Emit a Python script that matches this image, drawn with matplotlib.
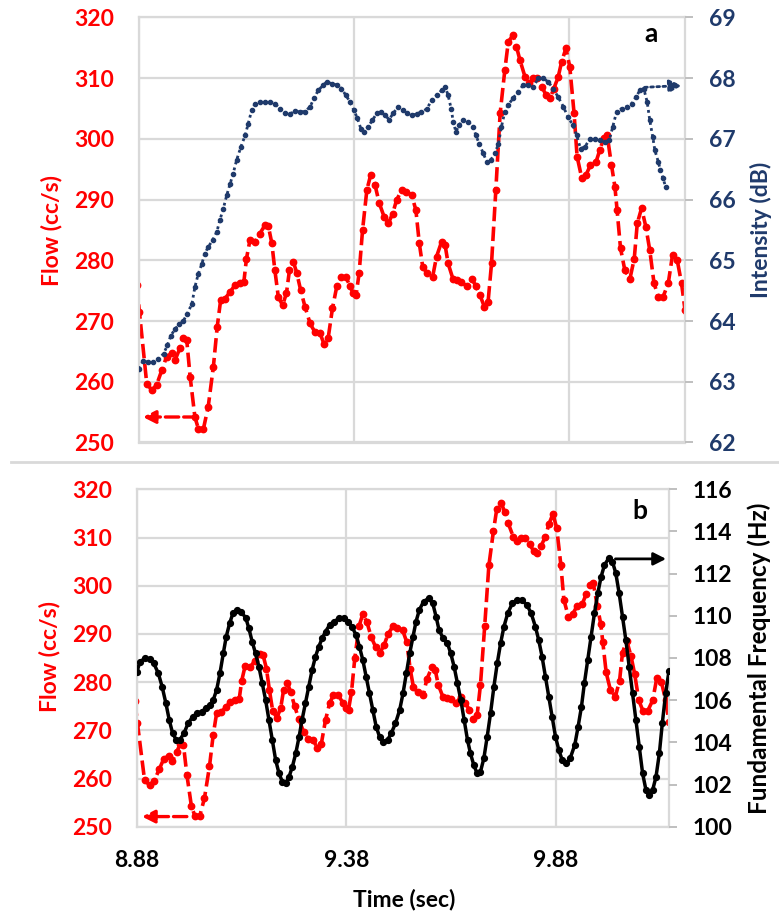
import matplotlib.pyplot as plt
from matplotlib.lines import Line2D

# flow signal (cc/s) sampled over time (sec), shared by both panels
flow_t = [8.875, 8.881, 8.898, 8.910, 8.921, 8.933, 8.944, 8.956, 8.964, 8.975,
          8.983, 8.991, 8.999, 9.010, 9.018, 9.030, 9.041, 9.053, 9.062, 9.070,
          9.080, 9.092, 9.103, 9.115, 9.124, 9.130, 9.138, 9.150, 9.161, 9.173,
          9.181, 9.189, 9.196, 9.204, 9.214, 9.223, 9.230, 9.239, 9.247, 9.256,
          9.266, 9.278, 9.289, 9.301, 9.310, 9.320, 9.330, 9.340, 9.349, 9.361,
          9.371, 9.378, 9.385, 9.392, 9.400, 9.410, 9.419, 9.429, 9.439, 9.450,
          9.460, 9.470, 9.479, 9.491, 9.501, 9.514, 9.524, 9.532, 9.540, 9.550,
          9.563, 9.572, 9.584, 9.592, 9.599, 9.610, 9.620, 9.630, 9.642, 9.654,
          9.664, 9.673, 9.683, 9.692, 9.700, 9.710, 9.720, 9.731, 9.739, 9.750,
          9.758, 9.766, 9.778, 9.788, 9.797, 9.806, 9.817, 9.827, 9.836, 9.845,
          9.855, 9.863, 9.873, 9.882, 9.892, 9.899, 9.910, 9.920, 9.930, 9.943,
          9.952, 9.961, 9.969, 9.979, 9.987, 9.992, 10.000, 10.010, 10.022, 10.032,
          10.039, 10.049, 10.059, 10.068, 10.078, 10.088, 10.099, 10.111, 10.121, 10.132,
          10.142, 10.150, 10.159]
flow_v = [276.0, 271.5, 259.7, 258.6, 259.5, 261.9, 264.1, 264.7, 263.6, 265.5,
          267.2, 266.9, 260.8, 254.2, 252.3, 252.3, 255.9, 262.5, 269.1, 273.5,
          273.7, 274.8, 275.9, 276.2, 276.5, 280.3, 283.3, 283.1, 284.4, 285.8,
          285.6, 282.8, 278.4, 274.0, 272.6, 274.6, 278.4, 279.8, 277.9, 275.1,
          272.4, 269.6, 268.2, 268.0, 266.3, 267.2, 272.1, 275.7, 277.3, 277.3,
          275.7, 274.6, 274.3, 277.9, 285.0, 291.6, 294.1, 292.4, 289.4, 287.2,
          286.1, 287.7, 289.9, 291.6, 291.3, 290.8, 288.3, 282.8, 278.9, 277.9,
          277.3, 280.6, 283.1, 282.5, 279.5, 277.0, 276.8, 276.5, 275.7, 277.0,
          275.7, 274.3, 272.4, 273.2, 279.5, 291.6, 304.2, 311.4, 316.0, 317.1,
          315.2, 313.0, 310.2, 309.2, 310.0, 310.0, 308.6, 307.2, 306.7, 308.3,
          310.2, 312.7, 314.9, 311.9, 304.2, 297.1, 293.5, 294.1, 295.7, 296.2,
          298.2, 300.1, 300.6, 295.7, 292.1, 288.3, 282.0, 278.4, 277.0, 280.3,
          286.1, 288.6, 285.5, 281.7, 276.2, 274.0, 274.0, 276.2, 280.9, 280.0,
          276.2, 271.8, 268.0]

# intensity (dB)
inten_t = [8.880, 8.890, 8.902, 8.913, 8.925, 8.937, 8.946, 8.954, 8.964, 8.974,
           8.983, 8.992, 9.003, 9.010, 9.018, 9.026, 9.033, 9.041, 9.051, 9.061,
           9.068, 9.076, 9.084, 9.092, 9.099, 9.107, 9.117, 9.127, 9.134, 9.142,
           9.150, 9.161, 9.173, 9.185, 9.196, 9.208, 9.220, 9.231, 9.243, 9.254,
           9.266, 9.278, 9.287, 9.297, 9.309, 9.317, 9.328, 9.340, 9.351, 9.361,
           9.371, 9.380, 9.388, 9.396, 9.403, 9.413, 9.423, 9.433, 9.442, 9.452,
           9.462, 9.471, 9.483, 9.493, 9.504, 9.514, 9.526, 9.537, 9.549, 9.561,
           9.572, 9.584, 9.592, 9.599, 9.606, 9.611, 9.617, 9.625, 9.634, 9.646,
           9.656, 9.664, 9.671, 9.681, 9.689, 9.698, 9.708, 9.716, 9.723, 9.731,
           9.739, 9.750, 9.762, 9.774, 9.785, 9.797, 9.809, 9.820, 9.832, 9.843,
           9.855, 9.867, 9.878, 9.889, 9.898, 9.907, 9.917, 9.929, 9.940, 9.952,
           9.964, 9.974, 9.982, 9.991, 10.003, 10.014, 10.026, 10.036, 10.045, 10.054,
           10.062, 10.068, 10.075, 10.080, 10.088, 10.093, 10.099, 10.105]
inten_v = [63.21, 63.35, 63.32, 63.32, 63.38, 63.46, 63.60, 63.76, 63.87, 63.95,
           64.00, 64.12, 64.28, 64.56, 64.78, 64.94, 65.11, 65.22, 65.33, 65.47,
           65.66, 65.85, 66.07, 66.26, 66.43, 66.65, 66.87, 67.06, 67.25, 67.47,
           67.58, 67.61, 67.61, 67.61, 67.58, 67.50, 67.42, 67.41, 67.46, 67.45,
           67.45, 67.53, 67.67, 67.80, 67.89, 67.94, 67.91, 67.89, 67.83, 67.72,
           67.61, 67.47, 67.34, 67.17, 67.12, 67.20, 67.31, 67.42, 67.45, 67.39,
           67.32, 67.42, 67.53, 67.47, 67.42, 67.39, 67.41, 67.45, 67.49, 67.64,
           67.72, 67.80, 67.86, 67.72, 67.50, 67.28, 67.12, 67.23, 67.31, 67.28,
           67.20, 67.06, 66.92, 66.76, 66.62, 66.65, 66.76, 66.92, 67.20, 67.45,
           67.56, 67.67, 67.78, 67.89, 67.89, 67.86, 68.00, 68.00, 67.94, 67.83,
           67.69, 67.53, 67.36, 67.23, 67.06, 66.84, 66.87, 67.00, 67.00, 66.98,
           66.95, 66.98, 67.20, 67.45, 67.50, 67.53, 67.58, 67.69, 67.80, 67.83,
           67.61, 67.31, 67.03, 66.81, 66.62, 66.48, 66.35, 66.21]

# fundamental frequency (Hz)
f0_t = [8.880, 8.887, 8.899, 8.911, 8.920, 8.931, 8.940, 8.949, 8.957, 8.965,
        8.974, 8.982, 8.992, 9.002, 9.013, 9.024, 9.034, 9.044, 9.054, 9.062,
        9.070, 9.078, 9.086, 9.093, 9.101, 9.109, 9.119, 9.129, 9.140, 9.147,
        9.155, 9.163, 9.171, 9.179, 9.187, 9.195, 9.203, 9.211, 9.219, 9.227,
        9.235, 9.243, 9.251, 9.259, 9.267, 9.274, 9.282, 9.290, 9.298, 9.306,
        9.314, 9.322, 9.330, 9.340, 9.350, 9.362, 9.373, 9.383, 9.393, 9.403,
        9.411, 9.419, 9.427, 9.435, 9.443, 9.451, 9.459, 9.468, 9.478, 9.487,
        9.497, 9.507, 9.515, 9.523, 9.531, 9.539, 9.546, 9.554, 9.564, 9.576,
        9.586, 9.594, 9.601, 9.611, 9.621, 9.629, 9.637, 9.645, 9.653, 9.661,
        9.669, 9.676, 9.684, 9.692, 9.700, 9.708, 9.716, 9.724, 9.732, 9.740,
        9.748, 9.756, 9.765, 9.776, 9.787, 9.799, 9.811, 9.821, 9.831, 9.839,
        9.847, 9.855, 9.863, 9.871, 9.879, 9.887, 9.895, 9.904, 9.914, 9.925,
        9.933, 9.941, 9.948, 9.956, 9.964, 9.972, 9.980, 9.988, 9.996, 10.006,
        10.015, 10.023, 10.031, 10.039, 10.047, 10.055, 10.063, 10.071, 10.079, 10.087,
        10.095, 10.103, 10.111, 10.119, 10.127, 10.134, 10.142, 10.150]
f0_v = [107.35, 107.83, 107.98, 107.94, 107.75, 107.27, 106.64, 105.85, 105.06, 104.43,
        104.11, 104.11, 104.43, 104.90, 105.22, 105.38, 105.45, 105.61, 105.77, 106.01,
        106.48, 107.27, 108.22, 109.01, 109.64, 110.12, 110.28, 110.20, 109.88, 109.41,
        108.77, 108.22, 107.59, 106.80, 106.01, 105.06, 104.11, 103.16, 102.53, 102.13,
        102.06, 102.37, 102.85, 103.48, 104.27, 105.06, 105.85, 106.64, 107.43, 108.06,
        108.54, 108.93, 109.25, 109.57, 109.72, 109.88, 109.88, 109.72, 109.49, 109.09,
        108.54, 107.91, 107.11, 106.32, 105.53, 104.74, 104.27, 104.03, 104.11, 104.43,
        104.90, 105.53, 106.32, 107.27, 108.22, 109.01, 109.72, 110.28, 110.67, 110.83,
        110.59, 109.96, 109.33, 108.93, 108.70, 108.22, 107.59, 106.80, 106.01, 105.06,
        104.11, 103.48, 102.92, 102.53, 102.61, 103.24, 104.27, 105.38, 106.64, 107.75,
        108.70, 109.49, 110.12, 110.59, 110.75, 110.75, 110.51, 110.12, 109.49, 108.85,
        108.06, 107.11, 106.17, 105.22, 104.27, 103.64, 103.16, 103.00, 103.24, 103.87,
        104.74, 105.69, 106.80, 107.91, 109.01, 110.12, 111.07, 111.86, 112.41, 112.73,
        112.57, 112.02, 111.07, 109.96, 108.85, 107.59, 106.32, 105.06, 103.79, 102.53,
        101.74, 101.50, 101.74, 102.37, 103.48, 104.90, 106.32, 107.40]

time_ticks = [8.88, 9.38, 9.88]
flow_ticks = [250, 260, 270, 280, 290, 300, 310, 320]
inten_ticks = [62, 63, 64, 65, 66, 67, 68, 69]
f0_ticks = [100, 102, 104, 106, 108, 110, 112, 114, 116]
t_range = (8.88, 10.15)

RED = '#FF0000'
NAVY = '#1F3A6B'
GRID = '#D9D9D9'
FONT = ['Lato', 'DejaVu Sans']

W, H = 779, 915
fig = plt.figure(figsize=(W / 100, H / 100), dpi=100)


def px(x0, y0, x1, y1):
    return [x0 / W, 1 - y1 / H, (x1 - x0) / W, (y1 - y0) / H]


def style_axes(ax, ax2, ylim, yticks, y2lim, y2ticks, y2color):
    ax.set_xlim(*t_range)
    ax.set_ylim(*ylim)
    ax.set_yticks(yticks)
    ax.set_xticks(time_ticks)
    ax.grid(True, color=GRID, lw=1.6)
    ax.set_axisbelow(True)
    for s in ax.spines.values():
        s.set_color(GRID)
        s.set_linewidth(1.6)
    ax.tick_params(axis='both', length=0, labelsize=16.5)
    ax.tick_params(axis='y', pad=18, labelcolor=RED)
    ax2.set_ylim(*y2lim)
    ax2.set_yticks(y2ticks)
    for s in ax2.spines.values():
        s.set_visible(False)
    ax2.tick_params(axis='y', length=6, width=1.4, color='#BFBFBF',
                    pad=11, labelsize=16.5, labelcolor=y2color)
    for lab in ax.get_yticklabels() + ax.get_xticklabels() + ax2.get_yticklabels():
        lab.set_family(FONT)
        lab.set_fontweight('bold')


red_style = dict(color=RED, lw=2.6, ls=(0, (4, 1.5)), marker='o', ms=4.6,
                 mec=RED, mfc=RED)
head = '-|>,head_length=0.75,head_width=0.38'

# ---- panel a: flow and intensity
ax_a = fig.add_axes(px(139, 17.5, 685, 442.5))
ax_a2 = ax_a.twinx()
ax_a.plot(flow_t, flow_v, **red_style)
ax_a2.plot(inten_t, inten_v, color=NAVY, lw=2.0, ls=(0, (1, 1.2)),
           marker='o', ms=3.0, mec=NAVY, mfc=NAVY)
style_axes(ax_a, ax_a2, (250, 320), flow_ticks, (62, 69), inten_ticks, NAVY)
ax_a.tick_params(axis='x', labelbottom=False)

ax_a.annotate('', xy=(8.889, 254.2), xytext=(9.015, 254.2),
              arrowprops=dict(arrowstyle=head, color=RED, lw=2.4,
                              ls=(0, (4, 1.5)), shrinkA=0, shrinkB=0))
ax_a2.annotate('', xy=(10.143, 67.88), xytext=(10.056, 67.85),
               arrowprops=dict(arrowstyle=head, color=NAVY, lw=2.0,
                               ls=(0, (1, 1.2)), shrinkA=0, shrinkB=0))

# ---- panel b: flow and fundamental frequency
ax_b = fig.add_axes(px(137, 489.3, 669, 826.7))
ax_b2 = ax_b.twinx()
ax_b.plot(flow_t, flow_v, **red_style)
ax_b2.plot(f0_t, f0_v, color='black', lw=2.5, ls='-',
           marker='o', ms=4.2, mec='black', mfc='black')
style_axes(ax_b, ax_b2, (250, 320), flow_ticks, (100, 116), f0_ticks, 'black')
ax_b.set_xticklabels([f'{t:.2f}' for t in time_ticks])
ax_b.tick_params(axis='x', pad=17, labelcolor='black')

ax_b.annotate('', xy=(8.892, 252.1), xytext=(8.999, 252.1),
              arrowprops=dict(arrowstyle=head, color=RED, lw=2.4,
                              ls=(0, (4, 1.5)), shrinkA=0, shrinkB=0))
ax_b2.annotate('', xy=(10.143, 112.7), xytext=(10.022, 112.7),
               arrowprops=dict(arrowstyle=head, color='black', lw=2.0,
                               shrinkA=0, shrinkB=0))

# axis titles and panel letters
txt = dict(family=FONT, fontweight='bold', ha='center', va='center')
fig.text(51 / W, 1 - 231 / H, 'Flow (cc/s)', color=RED, rotation=90,
         fontsize=16.5, **txt)
fig.text(49 / W, 1 - 657 / H, 'Flow (cc/s)', color=RED, rotation=90,
         fontsize=16.5, **txt)
fig.text(761 / W, 1 - 230 / H, 'Intensity (dB)', color=NAVY, rotation=90,
         fontsize=16.5, **txt)
fig.text(759 / W, 1 - 658 / H, 'Fundamental Frequency (Hz)', color='black',
         rotation=90, fontsize=17.5, **txt)
fig.text(404 / W, 1 - 899 / H, 'Time (sec)', color='black', fontsize=16.5, **txt)
fig.text(651 / W, 1 - 34 / H, 'a', color='black', fontsize=19, **txt)
fig.text(640 / W, 1 - 511 / H, 'b', color='black', fontsize=19, **txt)

# divider between the two panels
fig.add_artist(Line2D([11 / W, 1], [1 - 461.5 / H] * 2, color=GRID, lw=2))

fig.savefig('out.png', dpi=100, facecolor='white')
